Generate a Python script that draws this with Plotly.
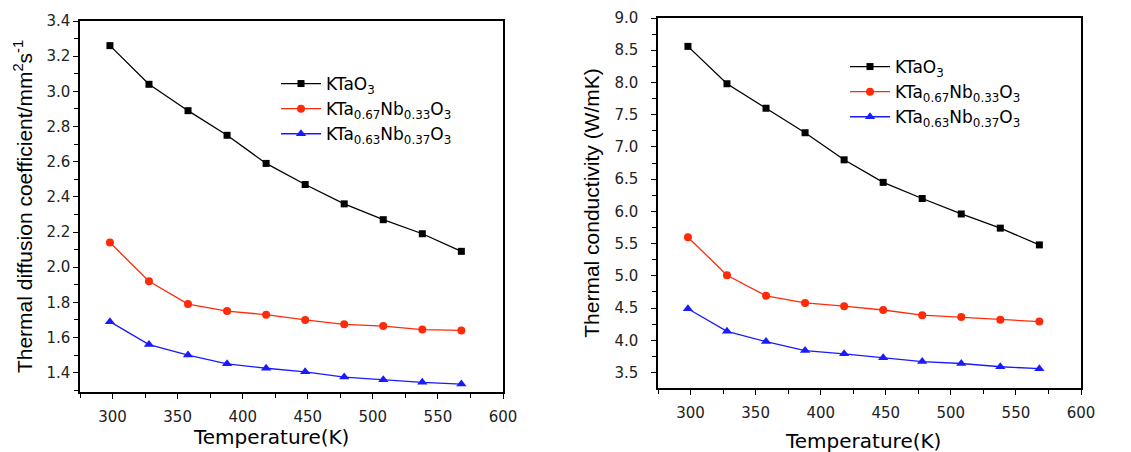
import plotly.graph_objects as go

temps = [298, 328, 358, 388, 418, 448, 478, 508, 538, 568]

diff_kto = [3.26, 3.04, 2.89, 2.75, 2.59, 2.47, 2.36, 2.27, 2.19, 2.09]
diff_033 = [2.14, 1.92, 1.79, 1.75, 1.73, 1.70, 1.675, 1.665, 1.645, 1.64]
diff_037 = [1.69, 1.56, 1.50, 1.45, 1.425, 1.405, 1.375, 1.36, 1.345, 1.335]

cond_kto = [8.56, 7.98, 7.60, 7.22, 6.80, 6.45, 6.20, 5.96, 5.74, 5.48]
cond_033 = [5.60, 5.01, 4.69, 4.58, 4.53, 4.47, 4.39, 4.36, 4.32, 4.29]
cond_037 = [4.49, 4.14, 3.98, 3.84, 3.79, 3.73, 3.67, 3.64, 3.59, 3.56]

names = ["KTaO<sub>3</sub>",
         "KTa<sub>0.67</sub>Nb<sub>0.33</sub>O<sub>3</sub>",
         "KTa<sub>0.63</sub>Nb<sub>0.37</sub>O<sub>3</sub>"]
colors = ["#000000", "#ff2a0a", "#1a1aff"]
symbols = ["square", "circle", "triangle-up"]
sizes = [7, 8, 9]

W, H = 1131, 452
OFF = 8  # page body margin


def px(x):
    return (x - OFF) / W


def py(y):
    return 1 - (y - OFF) / H


fig = go.Figure()

for ys, nm, c, s, sz in zip([diff_kto, diff_033, diff_037], names, colors, symbols, sizes):
    fig.add_trace(go.Scatter(x=temps, y=ys, name=nm, mode="lines+markers",
                             line=dict(color=c, width=1.3),
                             marker=dict(symbol=s, size=sz, color=c),
                             xaxis="x", yaxis="y", legend="legend"))

for ys, nm, c, s, sz in zip([cond_kto, cond_033, cond_037], names, colors, symbols, sizes):
    fig.add_trace(go.Scatter(x=temps, y=ys, name=nm, mode="lines+markers",
                             line=dict(color=c, width=1.3),
                             marker=dict(symbol=s, size=sz, color=c),
                             xaxis="x2", yaxis="y2", legend="legend2"))

font = "DejaVu Sans, Arial, sans-serif"
common_axis = dict(showline=True, linecolor="black", linewidth=1.5, mirror=True,
                   ticks="outside", ticklen=5, tickwidth=1.2, tickcolor="black",
                   showgrid=False, zeroline=False, automargin=False,
                   tickfont=dict(size=15, family=font, color="#222"))
xaxis_common = dict(common_axis, range=[275, 600], dtick=50, tick0=300,
                    ticklabelstandoff=5,
                    minor=dict(ticks="outside", ticklen=4, dtick=25, tickcolor="black", tickwidth=1.2))

fig.update_layout(
    width=W, height=H,
    paper_bgcolor="white", plot_bgcolor="white",
    margin=dict(l=0, r=0, t=0, b=0),
    showlegend=True,
    xaxis=dict(xaxis_common, domain=[px(80), px(503)], anchor="y"),
    yaxis=dict(common_axis, domain=[py(392), py(21)], anchor="x",
               range=[1.29, 3.4], dtick=0.2, tick0=1.4, tickformat=".1f",
               minor=dict(ticks="outside", ticklen=4, dtick=0.1, tickcolor="black", tickwidth=1.2),
               title=dict(text="Thermal diffusion coefficient/mm<sup>2</sup>s<sup>-1</sup>",
                          font=dict(size=21, family="Arial, Liberation Sans, sans-serif", color="black"),
                          standoff=8)),
    xaxis2=dict(xaxis_common, domain=[px(658), px(1081)], anchor="y2"),
    yaxis2=dict(common_axis, domain=[py(388), py(18)], anchor="x2",
                range=[3.26, 9.0], dtick=0.5, tick0=3.5, tickformat=".1f",
                ticklabelstandoff=10,
                minor=dict(ticks="outside", ticklen=4, dtick=0.25, tickcolor="black", tickwidth=1.2),
                title=dict(text="Thermal conductivity (W/mK)",
                           font=dict(size=21, family="Arial, Liberation Sans, sans-serif", color="black"),
                           standoff=9)),
    legend=dict(x=px(276), y=py(66), xanchor="left", yanchor="top",
                bgcolor="rgba(0,0,0,0)", font=dict(size=17, family=font, color="black"),
                itemwidth=40, tracegroupgap=0),
    legend2=dict(x=px(845), y=py(49), xanchor="left", yanchor="top",
                 bgcolor="rgba(0,0,0,0)", font=dict(size=17, family=font, color="black"),
                 itemwidth=40, tracegroupgap=0),
    annotations=[
        dict(text="Temperature(K)", x=px(271), y=py(437), xref="paper", yref="paper",
             xanchor="center", yanchor="middle", showarrow=False,
             font=dict(size=20, family=font, color="black")),
        dict(text="Temperature(K)", x=px(863), y=py(441), xref="paper", yref="paper",
             xanchor="center", yanchor="middle", showarrow=False,
             font=dict(size=20, family=font, color="black")),
    ],
)

fig.write_html("out.html")
